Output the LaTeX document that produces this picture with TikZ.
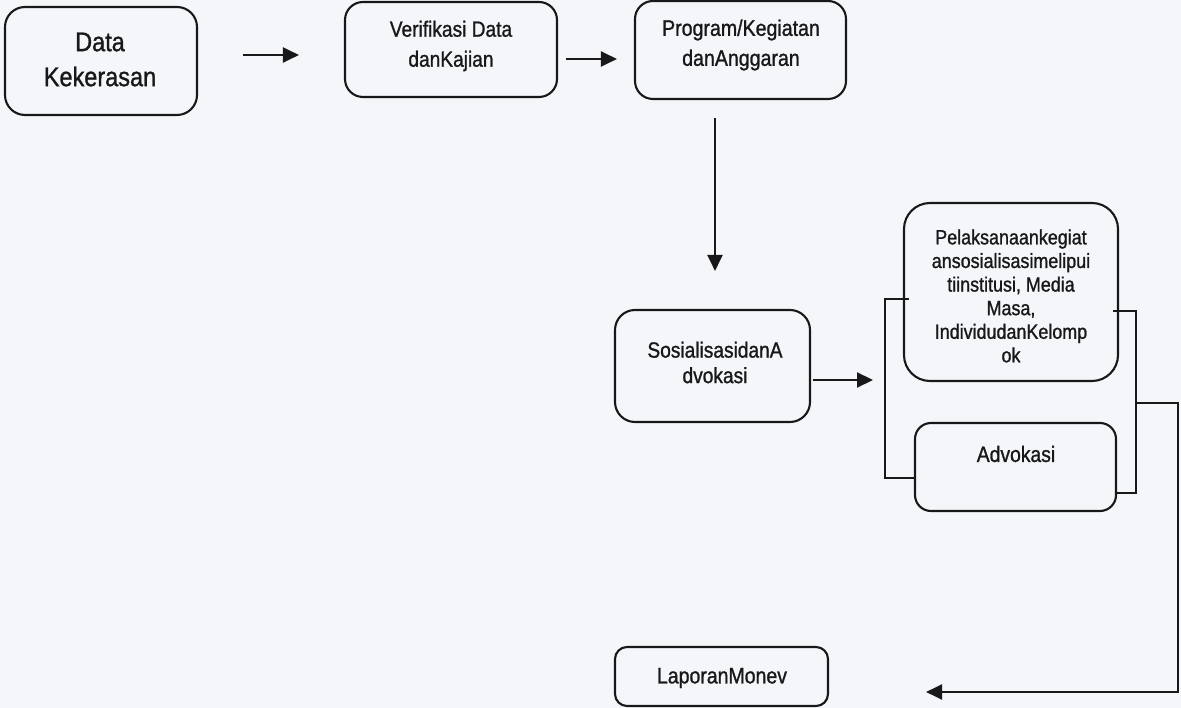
\documentclass[tikz,border=0pt]{standalone}
\usepackage{fontspec}
\setmainfont[FakeBold=1.1]{Liberation Sans}
\newfontfamily\narrowsans[FakeStretch=0.87,FakeBold=1.1]{Liberation Sans}
\usetikzlibrary{arrows.meta}

\definecolor{paper}{RGB}{244,246,249}
\definecolor{ink}{RGB}{24,24,26}

\begin{document}
\begin{tikzpicture}[x=1pt,y=-1pt,
  flowbox/.style={draw=ink, line width=2.1pt, rectangle, inner sep=0pt},
  boxtext/.style={text=ink, align=center, inner sep=0pt},
  link/.style={draw=ink, line width=2.1pt},
  arr/.style={link, -{Triangle[length=16pt,width=15pt]}}
]
% page
\fill[paper] (0,0) rectangle (1181,708);
\useasboundingbox (0,0) rectangle (1181,708);

% boxes
\node[flowbox, rounded corners=20pt, minimum width=192pt, minimum height=108pt] (b1) at (101,61) {};
\node[flowbox, rounded corners=18pt, minimum width=212pt, minimum height=95pt] (b2) at (451,49.5) {};
\node[flowbox, rounded corners=18pt, minimum width=211pt, minimum height=98pt] (b3) at (740.5,50) {};
\node[flowbox, rounded corners=20pt, minimum width=195pt, minimum height=112pt] (b4) at (712.5,366) {};
\node[flowbox, rounded corners=26pt, minimum width=214pt, minimum height=178pt] (b5) at (1011,292) {};
\node[flowbox, rounded corners=16pt, minimum width=201pt, minimum height=88pt] (b6) at (1015.5,467) {};
\node[flowbox, rounded corners=12pt, minimum width=213pt, minimum height=59pt] (b7) at (721.5,676.5) {};

% box texts
\node[boxtext, font=\narrowsans\fontsize{27}{35}\selectfont] (t1) at (100,59.5) {Data\\Kekerasan};
\node[boxtext, font=\narrowsans\fontsize{22}{30}\selectfont] (t2) at (451,46) {Verifikasi Data\\danKajian};
\node[boxtext, font=\narrowsans\fontsize{22.5}{30}\selectfont] (t3) at (741,45) {Program/Kegiatan\\danAnggaran};
\node[boxtext, font=\narrowsans\fontsize{22}{25.5}\selectfont] (t4) at (715,362.5) {SosialisasidanA\\dvokasi};
\node[boxtext, font=\narrowsans\fontsize{20.6}{23.6}\selectfont] (t5) at (1011,296)
  {Pelaksanaankegiat\\ansosialisasimelipui\\tiinstitusi, Media\\Masa,\\IndividudanKelomp\\ok};
\node[boxtext, font=\narrowsans\fontsize{22.2}{25}\selectfont] (t6) at (1016,454) {Advokasi};
\node[boxtext, font=\narrowsans\fontsize{22.4}{25}\selectfont] (t7) at (722,678) {LaporanMonev};

% helper rows and columns
\coordinate (r1) at (0,55);
\coordinate (r2) at (0,59);
\coordinate (c3) at (715,0);
\coordinate (r4) at (0,380);
\coordinate (lb) at (885,0);
\coordinate (rb) at (1136,0);
\coordinate (ob) at (1178,0);
\coordinate (rtop) at (0,299);
\coordinate (rbot) at (0,478);
\coordinate (qtop) at (0,311);
\coordinate (qbot) at (0,493);
\coordinate (orow) at (0,403);
\coordinate (brow) at (0,692);

% main flow
\draw[arr, shorten <=45pt, shorten >=45pt] (b1.east |- r1) -- (b2.west |- r1);
\draw[arr, shorten <=8pt, shorten >=17pt] (b2.east |- r2) -- (b3.west |- r2);
\draw[arr, shorten <=18pt, shorten >=38pt] (c3 |- b3.south) -- (c3 |- b4.north);
\draw[arr, shorten <=2pt, shorten >=12pt] (b4.east |- r4) -- (lb |- r4);

% brackets around the two activity boxes
\draw[link] ([xshift=6pt]b5.west |- rtop) -- (lb |- rtop) -- (lb |- rbot) -- (b6.west |- rbot);
\draw[link] ([xshift=-6pt]b5.east |- qtop) -- (rb |- qtop) -- (rb |- qbot) -- (b6.east |- qbot);

% return line to the report
\draw[arr, shorten >=97pt] (rb |- orow) -- (ob |- orow) -- (ob |- brow) -- (b7.east |- brow);
\end{tikzpicture}
\end{document}
